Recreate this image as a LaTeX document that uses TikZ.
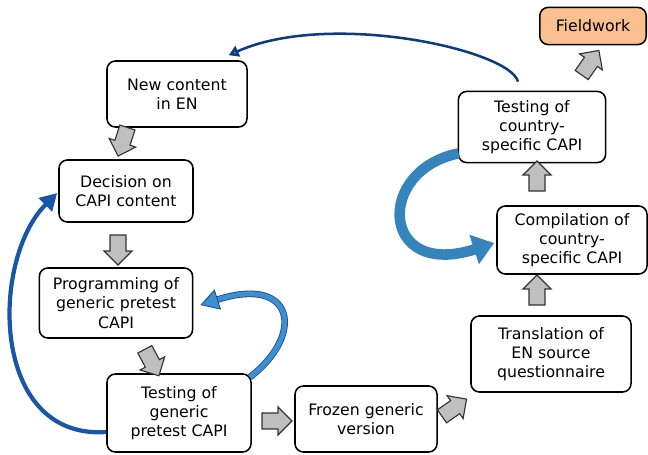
\documentclass[tikz,border=0pt]{standalone}
\usepackage{fontspec}
\setmainfont{DejaVu Sans}
\usetikzlibrary{shapes.arrows, arrows.meta, calc}
\definecolor{fieldorange}{HTML}{FAC090}
\definecolor{navyline}{HTML}{0E3A80}
\definecolor{loopblue}{HTML}{1A56A8}
\definecolor{lightblue}{HTML}{3C8FD6}
\definecolor{darkrim}{HTML}{1F4E79}
\definecolor{tealblue}{HTML}{3585BC}
\tikzset{>=Stealth}

\begin{document}
\begin{tikzpicture}[x=0.025cm, y=-0.025cm,
    stepbox/.style={draw, rounded corners=6pt, line width=1.1pt, align=center,
        fill=white, inner sep=2pt, font=\fontsize{11.2}{13.6}\selectfont},
    blockarrow/.style={single arrow, draw=black!80, fill=gray!50, line width=0.8pt,
        minimum height=0.75cm, single arrow head extend=0.15cm,
        inner xsep=0pt, inner ysep=0.185cm, rotate=#1}]
    \useasboundingbox (0,0) rectangle (648,454);
    % process steps
    \node[stepbox, minimum width=3.5cm, minimum height=1.65cm] (nc) at (177,94) {New content\\in EN};
    \node[stepbox, minimum width=3.35cm, minimum height=1.55cm] (dec) at (126,191) {Decision on\\CAPI content};
    \node[stepbox, minimum width=3.83cm, minimum height=1.75cm] (prog) at (116,303) {Programming of\\generic pretest\\CAPI};
    \node[stepbox, minimum width=3.6cm, minimum height=1.95cm] (tg) at (179,413) {Testing of\\generic\\pretest CAPI};
    \node[stepbox, minimum width=3.55cm, minimum height=1.65cm] (fz) at (366,419) {Frozen generic\\version};
    \node[stepbox, minimum width=4cm, minimum height=1.9cm] (tr) at (551,354) {Translation of\\EN source\\questionnaire};
    \node[stepbox, minimum width=3.75cm, minimum height=1.7cm] (comp) at (572,240) {Compilation of\\country-\\specific CAPI};
    \node[stepbox, minimum width=3.68cm, minimum height=1.78cm] (tc) at (532,127) {Testing of\\country-\\specific CAPI};
    \node[stepbox, fill=fieldorange, minimum width=2.66cm, minimum height=0.93cm] (fw) at (593,26) {Fieldwork};
    % block arrows
    \node[blockarrow=-108] (a1) at (124,138) {};
    \node[blockarrow=-90] (a2) at (118,246) {};
    \node[blockarrow=-62] (a3) at (150,359) {};
    \node[blockarrow=0] (a4) at (273,421) {};
    \node[blockarrow=35] (a5) at (451,410) {};
    \node[blockarrow=90] (a6) at (537,294) {};
    \node[blockarrow=90] (a7) at (537,180) {};
    \node[blockarrow=55] (a8) at (588,66) {};
    % feedback loops
    \draw[navyline, line width=1.8pt, -{Triangle[length=7pt,width=8pt,fill=lightblue]}]
        ($(tc.north)+(-14,-9)$) .. controls (510,50) and (330,10) .. ($(nc.north east)+(-19,-5)$);
    \draw[loopblue, line width=3pt, -{Triangle[length=12pt,width=13pt]}]
        ($(tg.west)+(0,19)$) .. controls (-10,440) and (-10,260) .. ($(dec.west)+(-1,2)$);
    \draw[darkrim, line width=0.6pt, double=lightblue, double distance=3.5pt,
        -{Triangle[length=13pt,width=15pt,fill=lightblue]}]
        ($(tg.north east)+(-2,4)$) .. controls (305,335) and (295,275) .. ($(prog.east)+(7,2)$);
    \draw[tealblue, line width=7.5pt, -{Triangle[length=15pt,width=21pt]}]
        ($(tc.south west)+(1,-10)$) .. controls (375,170) and (380,280) .. ($(comp.west)+(-2,3)$);
\end{tikzpicture}
\end{document}
